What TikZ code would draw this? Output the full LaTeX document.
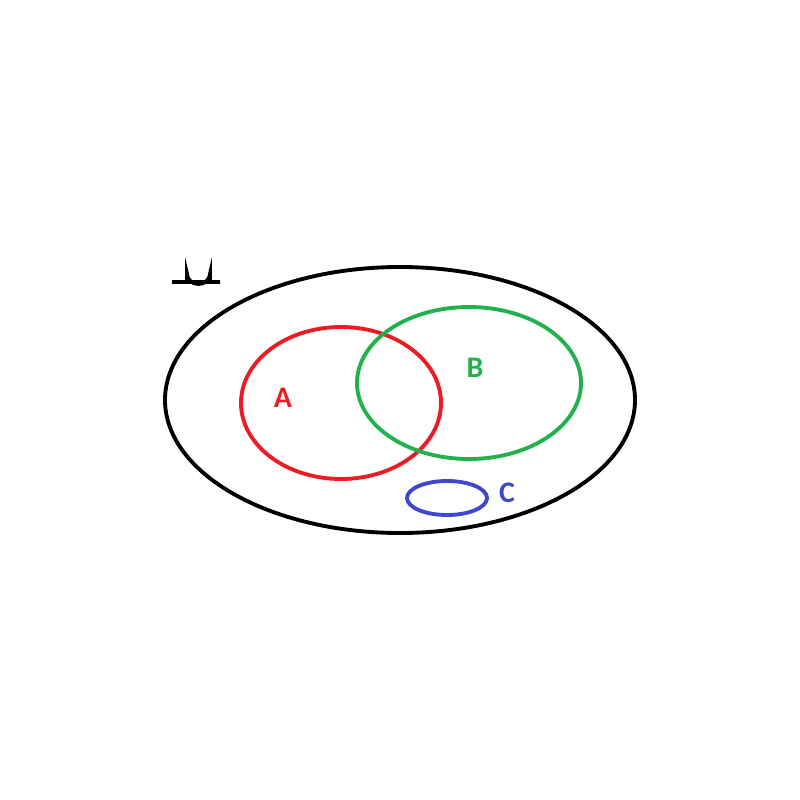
\documentclass[tikz,border=0pt]{standalone}
\usepackage{fontspec}
\setmainfont{Carlito}
\usetikzlibrary{positioning}
\definecolor{setred}{RGB}{237,28,36}
\definecolor{setgreen}{RGB}{34,177,76}
\definecolor{setblue}{RGB}{63,72,204}

\begin{document}
\begin{tikzpicture}
          [x=0.01cm,y=-0.01cm,line width=1.1pt,
            every node/.style={font=\bfseries\fontsize{8.5}{10}\selectfont},
            setline/.style={line width=1.1pt},
          ]
          \useasboundingbox (0,0) rectangle (800,800);

          % sample space
          \draw[setline] (400,400) ellipse [x radius=235,y radius=133];
          \draw[setline] (172,282) -- (220,282)
            (187,282) -- (187,274) arc[start angle=180,end angle=0,x radius=11.5,y radius=10] -- (210,282);

          % events
          \draw[setline,setred] (341,403) ellipse [x radius=100,y radius=76];
          \draw[setline,setgreen] (469,383) ellipse [x radius=112,y radius=76];
          \draw[setline,setblue] (447,498) ellipse [x radius=40,y radius=17];

          \node[text=setred] (labA) at (283,398) {A};
          \node[text=setgreen] (labB) at (475,368) {B};
          \node[text=setblue] (labC) at (507,493) {C};
        \end{tikzpicture}
\end{document}
